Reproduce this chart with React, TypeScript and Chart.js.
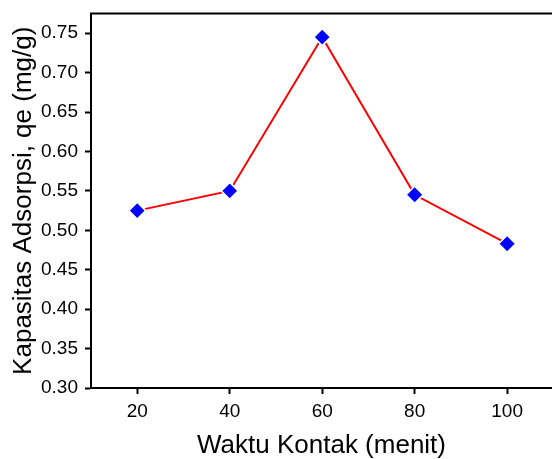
import React, { useEffect, useRef } from "react";
import { Chart, registerables } from "chart.js";

Chart.register(...registerables);

const contactTime = [20, 40, 60, 80, 100];
const capacity = [0.525, 0.55, 0.745, 0.545, 0.483];
const xTickValues = [20, 40, 60, 80, 100];
const yTickValues = [0.3, 0.35, 0.4, 0.45, 0.5, 0.55, 0.6, 0.65, 0.7, 0.75];
const xTitle = "Waktu Kontak (menit)";
const yTitle = "Kapasitas Adsorpsi, qe (mg/g)";

const FONT = "'Liberation Sans', Arial, Helvetica, sans-serif";

const topBorder = {
  id: "topBorder",
  afterDraw(chart: any) {
    const { ctx, chartArea } = chart;
    ctx.save();
    ctx.strokeStyle = "#000";
    ctx.lineWidth = 2;
    ctx.beginPath();
    ctx.moveTo(chartArea.left - 1, chartArea.top);
    ctx.lineTo(chart.width, chartArea.top);
    ctx.stroke();
    ctx.restore();
  },
};

export default function App() {
  const ref = useRef<HTMLCanvasElement | null>(null);
  useEffect(() => {
    if (!ref.current) return;
    const chart = new Chart(ref.current, {
      type: "line",
      data: {
        datasets: [
          {
            data: contactTime.map((x, i) => ({ x, y: capacity[i] })),
            borderColor: "#ff0000",
            borderWidth: 2,
            pointStyle: "rectRot",
            pointRadius: 8.5,
            pointBackgroundColor: "#0000ff",
            pointBorderColor: "#ffffff",
            pointBorderWidth: 1.5,
            tension: 0,
          },
        ],
      },
      options: {
        animation: false,
        responsive: true,
        maintainAspectRatio: false,
        layout: { autoPadding: false, padding: { top: 13.5, right: 0, left: 0, bottom: 0 } },
        plugins: { legend: { display: false }, tooltip: { enabled: false } },
        scales: {
          x: {
            type: "linear",
            min: 10,
            max: 109.7,
            afterBuildTicks: (s: any) => {
              s.ticks = xTickValues.map((v) => ({ value: v }));
            },
            afterFit: (s: any) => {
              s.height = 71;
              s.paddingLeft = 0;
              s.paddingRight = 0;
            },
            grid: {
              display: true,
              drawOnChartArea: false,
              drawTicks: true,
              tickLength: 6,
              tickWidth: 2,
              tickColor: "#000",
            },
            border: { display: true, color: "#000", width: 2 },
            ticks: {
              color: "#000",
              font: { family: FONT, size: 19 },
              padding: 6,
              maxRotation: 0,
              callback: (v: any) => String(v),
            },
            title: {
              display: true,
              text: xTitle,
              color: "#000",
              font: { family: FONT, size: 26 },
              padding: { top: 0, bottom: -2 },
            },
          },
          y: {
            type: "linear",
            min: 0.3,
            max: 0.775,
            afterBuildTicks: (s: any) => {
              s.ticks = yTickValues.map((v) => ({ value: v }));
            },
            afterFit: (s: any) => {
              s.width = 91;
              s.paddingTop = 0;
              s.paddingBottom = 0;
            },
            grid: {
              display: true,
              drawOnChartArea: false,
              drawTicks: true,
              tickLength: 6,
              tickWidth: 2,
              tickColor: "#000",
            },
            border: { display: true, color: "#000", width: 2 },
            ticks: {
              color: "#000",
              font: { family: FONT, size: 19 },
              padding: 7,
              callback: (v: any) => Number(v).toFixed(2),
            },
            title: {
              display: true,
              text: yTitle,
              color: "#000",
              font: { family: FONT, size: 26 },
              padding: { top: 8, bottom: 0 },
            },
          },
        },
      },
      plugins: [topBorder],
    });
    return () => chart.destroy();
  }, []);
  return (
    <div style={{ position: "fixed", left: 0, top: 0, width: 552, height: 459, background: "#fff" }}>
      <canvas ref={ref} style={{ width: 552, height: 459 }} />
    </div>
  );
}
